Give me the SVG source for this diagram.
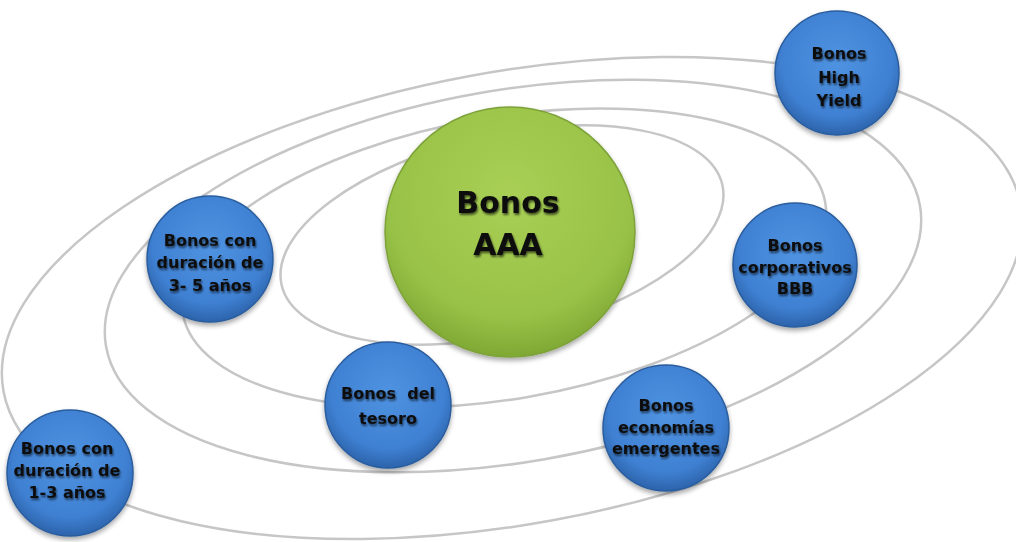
<svg xmlns="http://www.w3.org/2000/svg" width="1016" height="542" viewBox="0 0 1016 542">
<defs>
<radialGradient id="gBlue" cx="50%" cy="40%" r="60%">
<stop offset="0" stop-color="#4f93e2"/>
<stop offset="0.75" stop-color="#3f80d2"/>
<stop offset="1" stop-color="#2c63ab"/>
</radialGradient>
<radialGradient id="gGreen" cx="50%" cy="35%" r="65%">
<stop offset="0" stop-color="#a9cf55"/>
<stop offset="0.75" stop-color="#98c247"/>
<stop offset="1" stop-color="#7fa834"/>
</radialGradient>
<filter id="sh" x="-20%" y="-20%" width="140%" height="140%">
<feGaussianBlur in="SourceAlpha" stdDeviation="2.5"/>
<feOffset dx="0" dy="3" result="b"/>
<feComponentTransfer><feFuncA type="linear" slope="0.35"/></feComponentTransfer>
<feMerge><feMergeNode/><feMergeNode in="SourceGraphic"/></feMerge>
</filter>
<filter id="ts" x="-10%" y="-30%" width="120%" height="160%">
<feGaussianBlur in="SourceAlpha" stdDeviation="1.2" result="b"/>
<feOffset dx="1" dy="1.5"/>
<feComponentTransfer><feFuncA type="linear" slope="0.6"/></feComponentTransfer>
<feMerge><feMergeNode/><feMergeNode in="SourceGraphic"/></feMerge>
</filter>
</defs>
<style>
.orbit{fill:none;stroke:#c6c6c6;stroke-width:2.5}
.blue{fill:url(#gBlue);stroke:#2a5d9e;stroke-width:1.5}
.green{fill:url(#gGreen);stroke:#7ea23a;stroke-width:1.5}
.t{font-family:"DejaVu Sans",sans-serif;font-weight:bold;font-size:16px;fill:#111;text-anchor:middle}
.tb{font-family:"DejaVu Sans",sans-serif;font-weight:bold;font-size:30px;fill:#111;text-anchor:middle}
</style>
<g id="connectors">
<ellipse class="orbit" cx="502" cy="235" rx="226" ry="100" transform="rotate(-12.8 502 235)"/>
<ellipse class="orbit" cx="504" cy="258" rx="326" ry="141" transform="rotate(-9.8 504 258)"/>
<ellipse class="orbit" cx="513" cy="276" rx="413" ry="186" transform="rotate(-9.8 513 276)"/>
<ellipse class="orbit" cx="512" cy="298" rx="517" ry="226" transform="rotate(-10.4 512 298)"/>
</g>
<g id="node-aaa" filter="url(#sh)">
<circle class="green" cx="510" cy="232" r="125"/>
<text class="tb" x="508" y="213" filter="url(#ts)">Bonos</text>
<text class="tb" x="508" y="255" filter="url(#ts)">AAA</text>
</g>
<g id="node-high-yield" filter="url(#sh)">
<circle class="blue" cx="837" cy="73" r="62"/>
<text class="t" x="839" y="59" filter="url(#ts)">Bonos</text>
<text class="t" x="839" y="83" filter="url(#ts)">High</text>
<text class="t" x="839" y="106" filter="url(#ts)">Yield</text>
</g>
<g id="node-bbb" filter="url(#sh)">
<circle class="blue" cx="795" cy="265" r="62"/>
<text class="t" x="795" y="251" filter="url(#ts)">Bonos</text>
<text class="t" x="795" y="273" filter="url(#ts)">corporativos</text>
<text class="t" x="795" y="294" filter="url(#ts)">BBB</text>
</g>
<g id="node-emergentes" filter="url(#sh)">
<circle class="blue" cx="666" cy="428" r="63"/>
<text class="t" x="666" y="411" filter="url(#ts)">Bonos</text>
<text class="t" x="666" y="433" filter="url(#ts)">economías</text>
<text class="t" x="666" y="454" filter="url(#ts)">emergentes</text>
</g>
<g id="node-tesoro" filter="url(#sh)">
<circle class="blue" cx="388" cy="405" r="63"/>
<text class="t" x="388" y="399" xml:space="preserve" filter="url(#ts)">Bonos  del</text>
<text class="t" x="388" y="424" filter="url(#ts)">tesoro</text>
</g>
<g id="node-3-5" filter="url(#sh)">
<circle class="blue" cx="210" cy="259" r="63"/>
<text class="t" x="210" y="246" filter="url(#ts)">Bonos con</text>
<text class="t" x="210" y="268" filter="url(#ts)">duración de</text>
<text class="t" x="210" y="291" filter="url(#ts)">3- 5 años</text>
</g>
<g id="node-1-3" filter="url(#sh)">
<circle class="blue" cx="70" cy="473" r="63"/>
<text class="t" x="67" y="454" filter="url(#ts)">Bonos con</text>
<text class="t" x="67" y="476" filter="url(#ts)">duración de</text>
<text class="t" x="67" y="498" filter="url(#ts)">1-3 años</text>
</g>
</svg>
